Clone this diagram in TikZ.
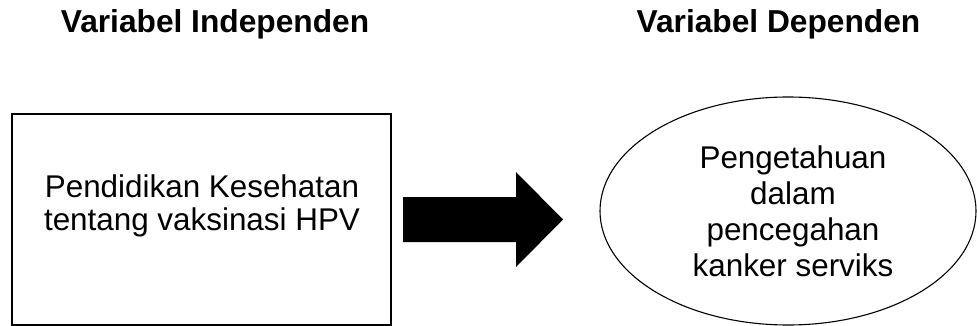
\documentclass[tikz,border=0pt]{standalone}
\usepackage{fontspec}
\setmainfont{Liberation Sans}
\usetikzlibrary{shapes.geometric}
\begin{document}
\begin{tikzpicture}[x=1pt,y=-1pt,
  title/.style={anchor=base,inner sep=0,font=\fontsize{31.7}{36}\bfseries\selectfont},
  boxtext/.style={align=center,inner sep=0,font=\fontsize{31.4}{33}\selectfont},
  elltext/.style={align=center,inner sep=0,font=\fontsize{31.4}{36}\selectfont},
  arrowfill/.style={fill=black,draw=none}]
\useasboundingbox (0,0) rectangle (977,326);
\node[title] (t1) at (215,33) {Variabel Independen};
\node[title] (t2) at (778.5,33) {Variabel Dependen};
\node[draw,line width=1.6pt,rectangle,inner sep=0,minimum width=379pt,minimum height=211pt] (box) at (201.5,219.5) {};
\node[boxtext] (boxt) at (202,205.5) {Pendidikan Kesehatan\\tentang vaksinasi HPV};
\node[draw,line width=1.1pt,ellipse,inner sep=0,minimum width=376pt,minimum height=228pt] (ell) at (788,211) {};
\node[elltext] (ellt) at (793,211.3) {Pengetahuan\\dalam\\pencegahan\\kanker serviks};
\fill[arrowfill] (403,197) -- (516,197) -- (516,172) -- (563,219.5) -- (516,267) -- (516,242) -- (403,242) -- cycle;
\end{tikzpicture}
\end{document}
